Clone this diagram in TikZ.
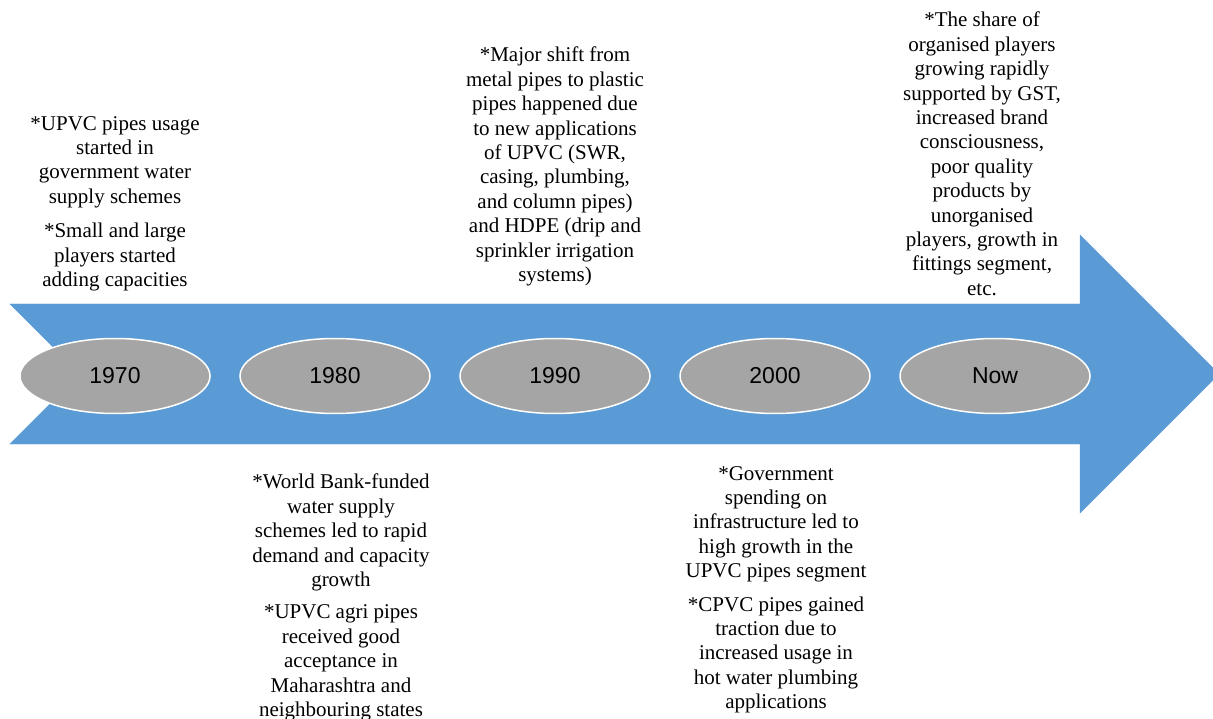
\documentclass[tikz,border=0pt]{standalone}
\usepackage{fontspec}
\setmainfont{Liberation Serif}
\setsansfont{Liberation Sans}
\usetikzlibrary{shapes.geometric}

\definecolor{arrowblue}{HTML}{5B9BD5}
\definecolor{ovalgrey}{HTML}{A5A5A5}

\tikzset{
  year/.style={ellipse, fill=ovalgrey, draw=white, line width=1.5pt,
    minimum width=190pt, minimum height=75pt, inner sep=0pt,
    font=\sffamily\fontsize{23}{27}\selectfont},
  note/.style={align=center, inner sep=0pt, anchor=north,
    font=\fontsize{21}{24.4}\selectfont}
}

\begin{document}
\begin{tikzpicture}[x=1pt,y=-1pt]
  \useasboundingbox (0,0) rectangle (1213,719);
  \clip (0,0) rectangle (1213,719);

  % the big arrow
  \filldraw[arrowblue] (10,304) -- (1080,304) -- (1080,235) -- (1219,374)
    -- (1080,513) -- (1080,444) -- (10,444) -- (80,374) -- cycle;

  \foreach \yr [count=\i] in {1970,1980,1990,2000,Now}
  {
    \node[year] (yr\yr) at (115+220*\i-220,376) {\yr};
  }

  % above the arrow
  \node[note] (n1970) at (115,116) {*UPVC pipes usage\\ started in\\
    government water\\ supply schemes\\[10pt] *Small and large\\
    players started\\ adding capacities};
  \node[note] (n1990) at (555,47) {*Major shift from\\ metal pipes to plastic\\
    pipes happened due\\ to new applications\\ of UPVC (SWR,\\
    casing, plumbing,\\ and column pipes)\\ and HDPE (drip and\\
    sprinkler irrigation\\ systems)};
  \node[note] (nNow) at (982,12) {*The share of\\ organised players\\
    growing rapidly\\ supported by GST,\\ increased brand\\
    consciousness,\\ poor quality\\ products by\\ unorganised\\
    players, growth in\\ fittings segment,\\ etc.};

  % below the arrow
  \node[note] (n1980) at (341,474) {*World Bank-funded\\ water supply\\
    schemes led to rapid\\ demand and capacity\\ growth\\[8pt]
    *UPVC agri pipes\\ received good\\ acceptance in\\
    Maharashtra and\\ neighbouring states};
  \node[note] (n2000) at (776,466) {*Government\\ spending on\\
    infrastructure led to\\ high growth in the\\ UPVC pipes segment\\[9pt]
    *CPVC pipes gained\\ traction due to\\ increased usage in\\
    hot water plumbing\\ applications};

\end{tikzpicture}
\end{document}
